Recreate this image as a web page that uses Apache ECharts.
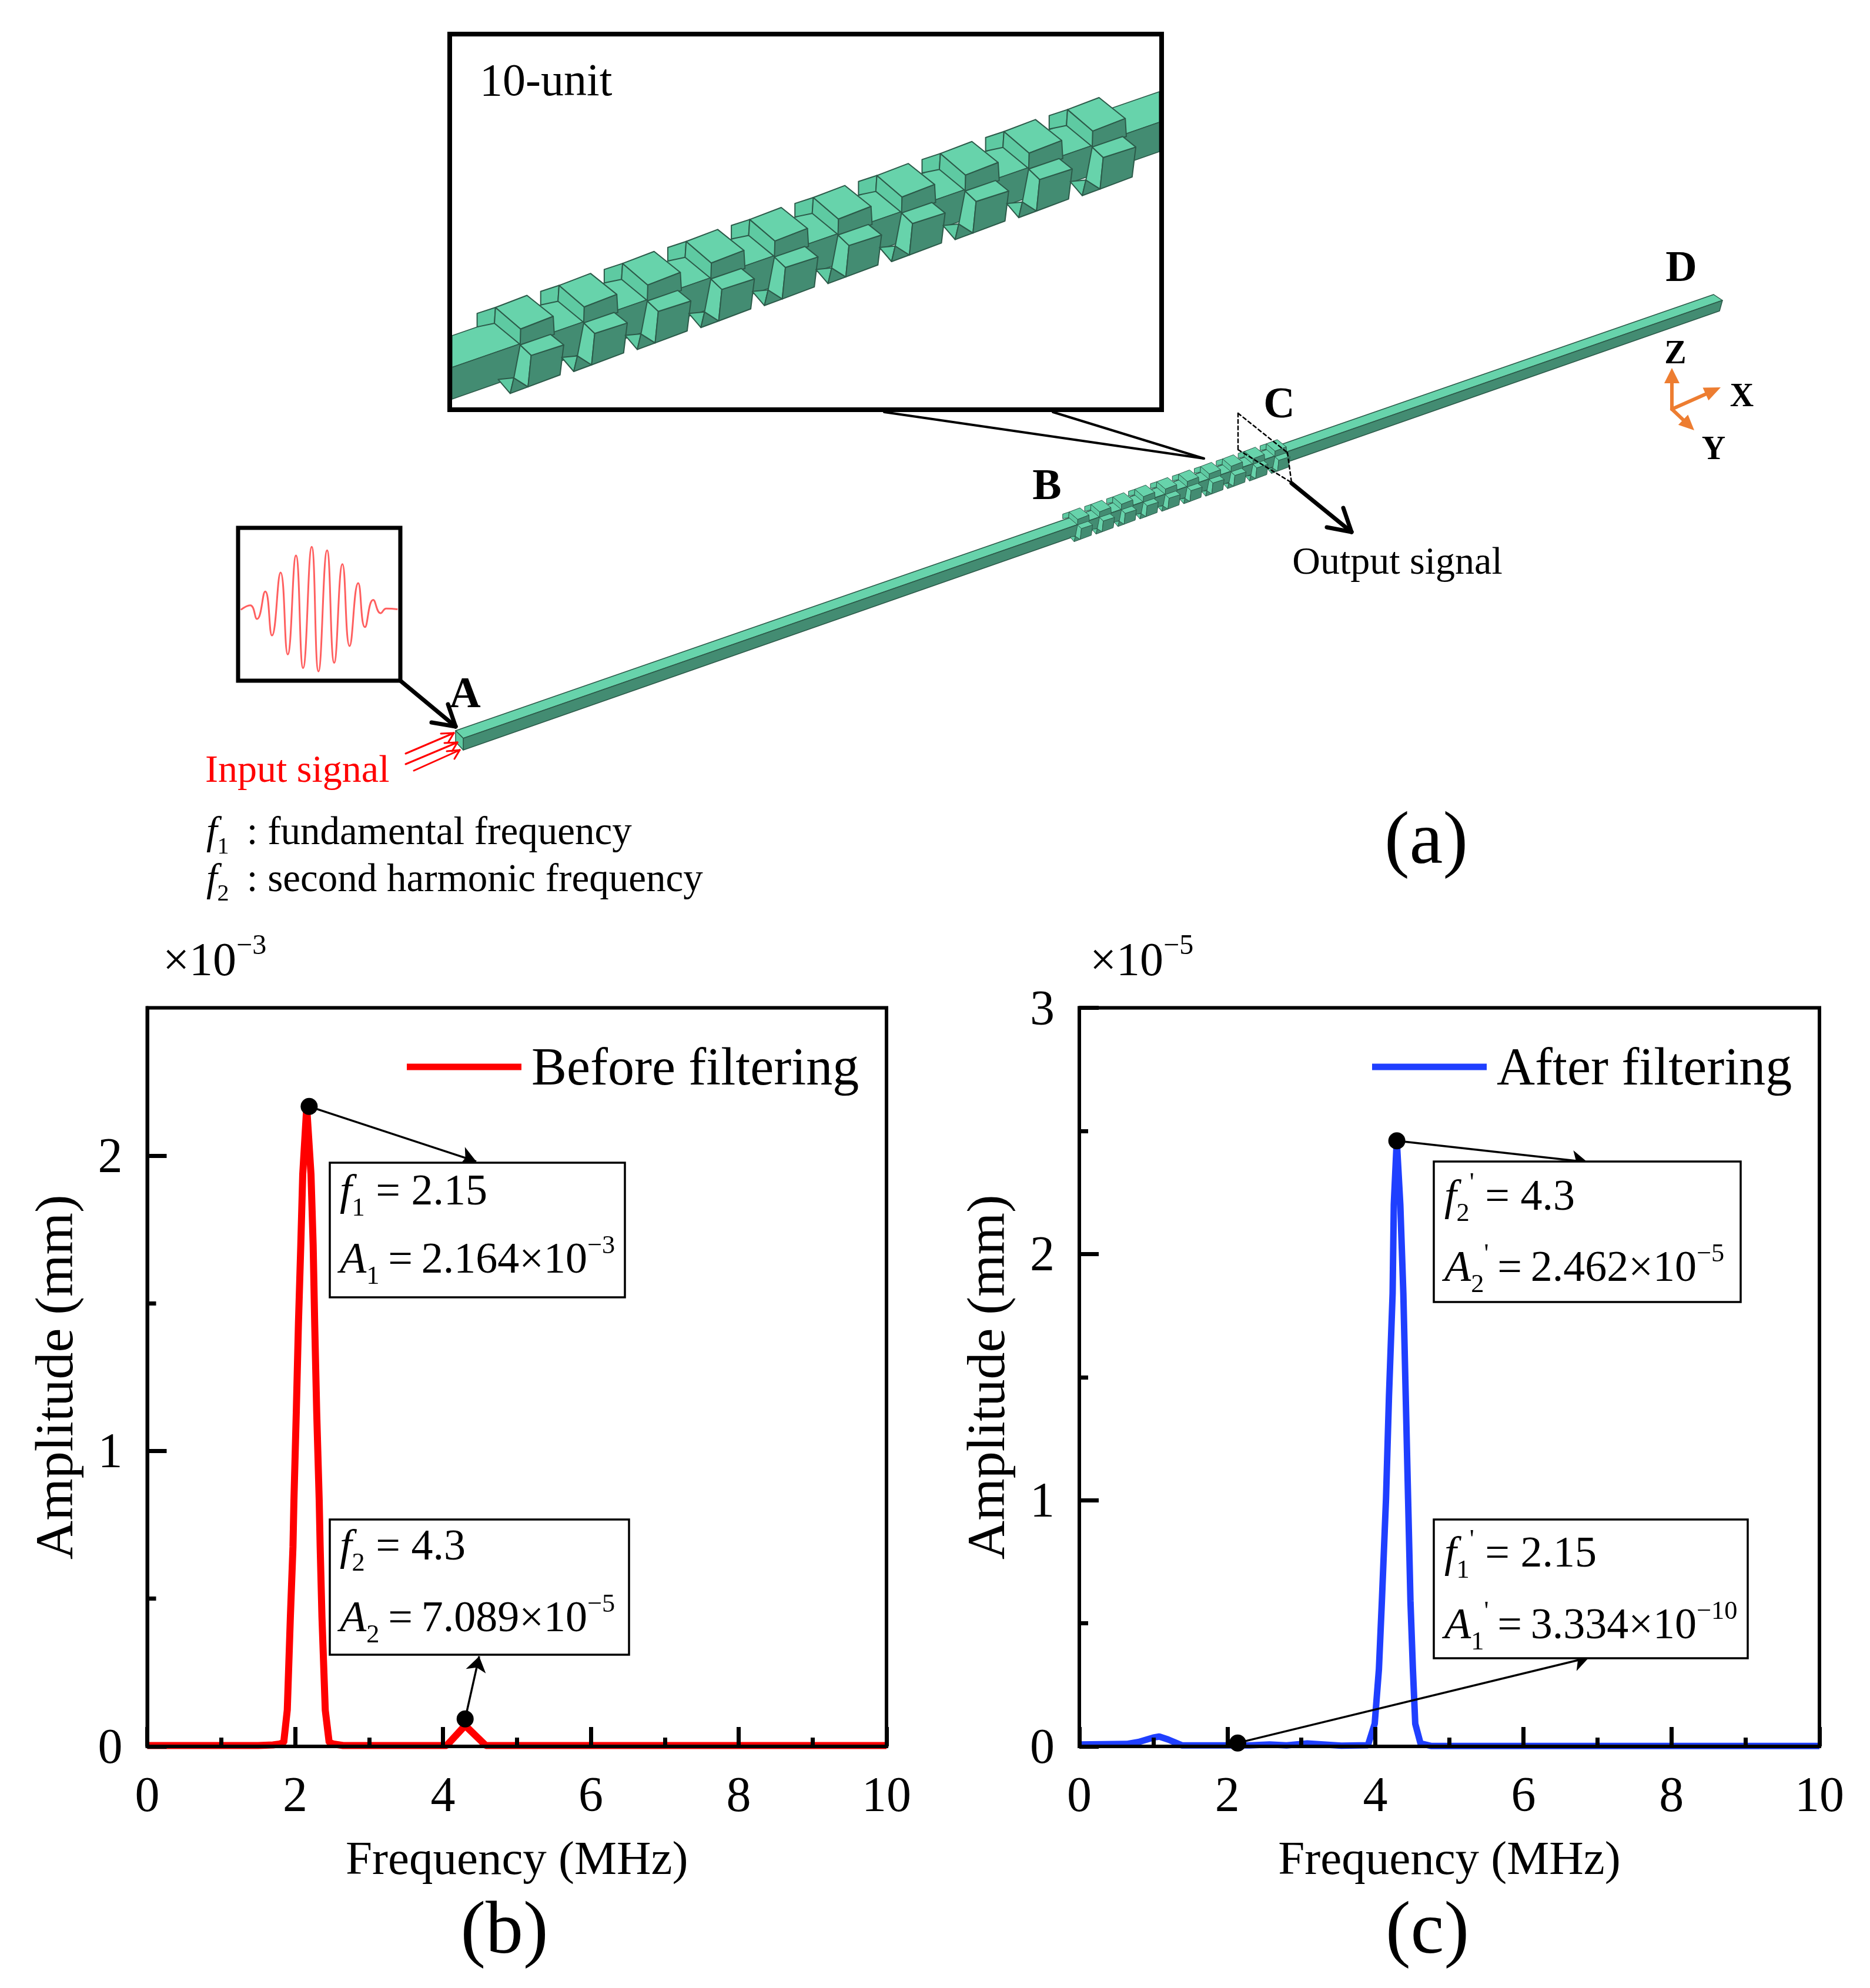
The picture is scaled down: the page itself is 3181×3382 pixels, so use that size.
<!DOCTYPE html>
<html>
<head>
<meta charset="utf-8">
<title>Filtering chart</title>
<script src="https://cdn.jsdelivr.net/npm/echarts@6/dist/echarts.min.js"></script>
<style>
  html, body { margin: 0; padding: 0; background: #fff; }
  #chart { width: 3181px; height: 3382px; }
</style>
</head>
<body>
<div id="chart"></div>
<script>
// (b) before filtering, amplitude in 1e-3 mm
const freqBefore = [0, 1.5, 1.7, 1.79, 1.846, 1.894, 1.936, 1.971, 1.984, 2.016, 2.045, 2.077, 2.103, 2.157, 2.215, 2.244, 2.265, 2.292, 2.326, 2.339, 2.363, 2.408, 2.461, 2.52, 2.65, 3.5, 4.05, 4.3, 4.58, 4.7, 10];
const ampBefore = [0.003, 0.003, 0.005, 0.008, 0.013, 0.123, 0.439, 0.675, 0.832, 1.132, 1.431, 1.699, 1.936, 2.164, 1.936, 1.699, 1.431, 1.132, 0.832, 0.675, 0.439, 0.123, 0.013, 0.008, 0.003, 0.003, 0.003, 0.0709, 0.003, 0.003, 0.003];
const peaksBefore = [[2.19, 2.166], [4.3, 0.093]];
const arrowEndsBefore = [[4.45, 1.98], [4.49, 0.305]];

// (c) after filtering, amplitude in 1e-5 mm
const freqAfter = [0, 0.64, 0.8, 1.0, 1.08, 1.2, 1.39, 2.3, 2.57, 2.8, 3.08, 3.54, 3.9, 3.991, 4.048, 4.088, 4.144, 4.184, 4.233, 4.249, 4.289, 4.337, 4.378, 4.41, 4.442, 4.474, 4.507, 4.539, 4.61, 4.75, 10];
const ampAfter = [0.008, 0.01, 0.018, 0.036, 0.04, 0.028, 0.004, 0.004, 0.008, 0.004, 0.012, 0.003, 0.005, 0.092, 0.314, 0.591, 1.007, 1.424, 1.84, 2.2, 2.462, 2.2, 1.84, 1.424, 1.007, 0.591, 0.314, 0.092, 0.012, 0.002, 0.002];
const peaksAfter = [[4.29, 2.46], [2.14, 0.014]];
const arrowEndsAfter = [[6.865, 2.373], [6.886, 0.361]];

const xMajorTicks = [0, 2, 4, 6, 8, 10];
const yMajorBefore = [0, 1, 2];
const yMinorBefore = [0.5, 1.5];
const yMajorAfter = [0, 1, 2, 3];
const yMinorAfter = [0.5, 1.5, 2.5];

// input burst in panel (a), extrema
const burstT = [172, 197, 215, 237, 255, 278, 297, 319, 338, 361, 379, 402, 421, 443, 462, 485, 503, 525, 545, 560, 590];
const burstA = [-2, 15, -37, 68, -100, 140, -172, 205, -224, 238, -237, 225, -204, 172, -140, 100, -68, 36, -15, 3, 0];

const SERIF = '"Liberation Serif", "Times New Roman", serif';
const BLACK = '#000';
const LIGHT = '#67d3ab';
const MID = '#5ecaa2';
const DARK = '#438c72';
const EDGE = '#2c5a49';
const THIN = '\u2009';

const els = [];

function rect(x0, y0, x1, y1, lw, fill) {
  els.push({ type: 'rect', z: 10, shape: { x: x0, y: y0, width: x1 - x0, height: y1 - y0 },
    style: { fill: fill || 'transparent', stroke: BLACK, lineWidth: lw } });
}
function seg(x1, y1, x2, y2, color, lw, dash) {
  els.push({ type: 'line', z: 11, shape: { x1, y1, x2, y2 },
    style: { stroke: color, lineWidth: lw, lineDash: dash || null, lineCap: 'round' } });
}
function poly(points, fill, stroke, lw) {
  els.push({ type: 'polygon', z: 9, shape: { points },
    style: { fill, stroke: stroke || EDGE, lineWidth: lw === undefined ? 1.5 : lw, lineJoin: 'round' } });
}
function label(text, x, y, size, opt) {
  opt = opt || {};
  els.push({ type: 'text', z: 12, style: {
    text, x, y, fill: opt.color || BLACK,
    fontFamily: SERIF, fontSize: size, fontWeight: opt.weight || 'normal',
    textAlign: opt.align || 'center', textVerticalAlign: 'middle'
  } });
}
function mathLabel(text, x, y, size) {
  els.push({ type: 'text', z: 12, style: {
    text, x, y, fill: BLACK, fontFamily: SERIF, fontSize: size,
    textAlign: 'left', textVerticalAlign: 'middle',
    rich: {
      i: { fontFamily: SERIF, fontStyle: 'italic', fontSize: size, lineHeight: size * 1.3, fill: BLACK },
      n: { fontFamily: SERIF, fontSize: size, lineHeight: size * 1.3, fill: BLACK },
      s: { fontFamily: SERIF, fontSize: size * 0.6, lineHeight: size * 1.3, verticalAlign: 'bottom', fill: BLACK },
      u: { fontFamily: SERIF, fontSize: size * 0.6, lineHeight: size * 1.3, verticalAlign: 'top', fill: BLACK }
    }
  } });
}
// solid arrow head
function solidArrow(x0, y0, x1, y1, color, lw, headLen, headWid) {
  const a = Math.atan2(y1 - y0, x1 - x0);
  const bx = x1 - headLen * Math.cos(a), by = y1 - headLen * Math.sin(a);
  const nx = -Math.sin(a) * headWid / 2, ny = Math.cos(a) * headWid / 2;
  seg(x0, y0, bx, by, color, lw);
  els.push({ type: 'polygon', z: 11, shape: { points: [[x1, y1], [bx + nx, by + ny], [bx - nx, by - ny]] },
    style: { fill: color } });
}
// open V arrow head, barbs given directly
function openArrow(x0, y0, x1, y1, b1, b2, color, lw) {
  seg(x0, y0, x1, y1, color, lw);
  seg(x1, y1, b1[0], b1[1], color, lw);
  seg(x1, y1, b2[0], b2[1], color, lw);
}

// one periodic unit (zoom crop units)
const unitFaces = [
  [[125, 1045], [160, 1025], [158, 1078], [125, 1090]],
  [[165, 1265], [195, 1260], [188, 1312]],
  [[195, 1260], [222, 1290], [188, 1312]],
  [[160, 1025], [208, 1097], [208, 1150], [158, 1078]],
  [[160, 1025], [220, 985], [270, 1055], [208, 1097]],
  [[208, 1097], [270, 1055], [272, 1115], [207, 1150]],
  [[207, 1150], [228, 1185], [222, 1290], [195, 1260]],
  [[228, 1185], [290, 1150], [283, 1250], [222, 1290]],
  [[207, 1150], [265, 1115], [290, 1150], [228, 1185]]
];
const unitColors = [MID, MID, DARK, MID, LIGHT, DARK, LIGHT, DARK, LIGHT];

function unitPoint(p, i) {
  return [700 + (p[0] + 121.1 * i) / 1.12, (p[1] - 73.3 * i) / 1.96];
}
function drawUnits(map, lw) {
  for (let i = 0; i < 10; i++) {
    unitFaces.forEach((f, k) => {
      poly(f.map(p => map(unitPoint(p, i))), unitColors[k], EDGE, lw);
    });
  }
}

// long beam
poly([[775, 1243], [2915, 501], [2930, 511], [788, 1256]], LIGHT, EDGE, 1.5);
poly([[788, 1256], [2930, 511], [2925, 529], [788, 1276]], DARK, EDGE, 1.5);
poly([[775, 1243], [788, 1256], [788, 1276], [775, 1262]], MID, EDGE, 1.5);
drawUnits(p => [1833 + (p[0] - 884.8) * 0.345, 893 + (p[1] - 586.7) * 0.345], 1);

// inset, the faces sit between its white fill and its frame
poly([[765, 58], [1976, 58], [1976, 697], [765, 697]], '#fff', '#fff', 0);
poly([[769, 571], [1972, 156], [1972, 208], [769, 625]], LIGHT, EDGE, 1.5);
poly([[769, 625], [1972, 208], [1972, 258], [769, 679]], DARK, EDGE, 1.5);
drawUnits(p => p, 2);
rect(765, 58, 1976, 697, 8);
label('10-unit', 816, 142, 78, { align: 'left' });
seg(1504, 701, 2048, 780, BLACK, 4);
seg(1791, 701, 2048, 780, BLACK, 4);

// plane at C
seg(2106, 703, 2106, 765, BLACK, 2.5, [6, 5]);
seg(2106, 703, 2190, 770, BLACK, 2.5, [6, 5]);
seg(2190, 770, 2197, 821, BLACK, 2.5, [6, 5]);
seg(2106, 765, 2197, 821, BLACK, 2.5, [6, 5]);

// signal box and arrows
rect(405, 898, 681, 1158, 7);
openArrow(681, 1158, 775, 1236, [734, 1229], [762, 1198], BLACK, 7);
openArrow(2197, 822, 2299, 905, [2257, 897], [2285, 864], BLACK, 7);
openArrow(690, 1282, 772, 1247, [750, 1248], [763, 1262], '#f00', 3);
openArrow(690, 1300, 778, 1263, [756, 1264], [769, 1278], '#f00', 3);
openArrow(704, 1311, 782, 1276, [760, 1278], [773, 1291], '#f00', 3);

// orientation triad
solidArrow(2844, 696, 2844, 626, '#ed7d31', 6, 26, 26);
solidArrow(2844, 696, 2927, 659, '#ed7d31', 6, 28, 24);
solidArrow(2844, 696, 2882, 732, '#ed7d31', 6, 26, 24);

label('A', 791, 1184, 74, { weight: 'bold' });
label('B', 1781, 830, 74, { weight: 'bold' });
label('C', 2176, 691, 74, { weight: 'bold' });
label('D', 2860, 459, 74, { weight: 'bold' });
label('Z', 2850, 604, 56, { weight: 'bold' });
label('X', 2963, 677, 56, { weight: 'bold' });
label('Y', 2915, 767, 56, { weight: 'bold' });
label('Input signal', 349, 1313, 66, { align: 'left', color: '#f00' });
label('Output signal', 2377, 959, 66);
mathLabel('{i|f}{s|1}{n|' + THIN + ' : fundamental frequency}', 351, 1418, 67);
mathLabel('{i|f}{s|2}{n|' + THIN + ' : second harmonic frequency}', 351, 1498, 67);

label('(a)', 2426, 1434, 128);
label('(b)', 858, 3288, 128);
label('(c)', 2428, 3288, 128);

// annotation boxes
const EQ = THIN + '=' + THIN;
rect(561, 1978, 1063, 2207, 3.5, '#fff');
rect(561, 2585, 1070, 2815, 3.5, '#fff');
rect(2439, 1976, 2961, 2215, 3.5, '#fff');
rect(2439, 2585, 2973, 2821, 3.5, '#fff');
mathLabel('{i|f}{s|1}{n| = 2.15}', 578, 2030, 74);
mathLabel('{i|A}{s|1}{n|' + EQ + '2.164×10}{u|−3}', 578, 2146, 74);
mathLabel('{i|f}{s|2}{n| = 4.3}', 578, 2634, 74);
mathLabel('{i|A}{s|2}{n|' + EQ + '7.089×10}{u|−5}', 578, 2756, 74);
mathLabel("{i|f}{s|2}{u|'}{n| = 4.3}", 2457, 2039, 74);
mathLabel("{i|A}{s|2}{u|'}{n|" + EQ + '2.462×10}{u|−5}', 2457, 2160, 74);
mathLabel("{i|f}{s|1}{u|'}{n| = 2.15}", 2457, 2646, 74);
mathLabel("{i|A}{s|1}{u|'}{n|" + EQ + '3.334×10}{u|−10}', 2457, 2768, 74);

// axis multipliers
mathLabel('{n|×10}{u|−3}', 277, 1638, 80);
mathLabel('{n|×10}{u|−5}', 1854, 1638, 80);

function xAxisFor(gridIndex) {
  return {
    gridIndex, type: 'value', min: 0, max: 10, interval: 2, z: 5,
    name: 'Frequency (MHz)', nameLocation: 'middle', nameGap: 155,
    nameTextStyle: { fontFamily: SERIF, fontSize: 81, color: BLACK },
    axisLine: { show: true, onZero: false, lineStyle: { color: BLACK, width: 6 } },
    axisTick: { show: true, inside: true, length: 33, lineStyle: { color: BLACK, width: 7 }, customValues: xMajorTicks },
    minorTick: { show: true, splitNumber: 2, length: 15, lineStyle: { color: BLACK, width: 7 } },
    axisLabel: { fontFamily: SERIF, fontSize: 84, color: BLACK, margin: 46, customValues: xMajorTicks },
    splitLine: { show: false }, minorSplitLine: { show: false }
  };
}
function yAxisFor(gridIndex, max, major) {
  return {
    gridIndex, type: 'value', min: 0, max, interval: 1, z: 5, position: 'left',
    name: 'Amplitude (mm)', nameLocation: 'middle', nameGap: 106,
    nameTextStyle: { fontFamily: SERIF, fontSize: 92, color: BLACK },
    axisLine: { show: true, onZero: false, lineStyle: { color: BLACK, width: 6 } },
    axisTick: { show: true, inside: true, length: 33, lineStyle: { color: BLACK, width: 7 }, customValues: major },
    axisLabel: {
      margin: 42, customValues: major, formatter: '{v|{value}}',
      rich: { v: { fontFamily: SERIF, fontSize: 84, color: BLACK, padding: [12, 0, 0, 0] } }
    },
    splitLine: { show: false }
  };
}
// second axis on the same scale just for the short ticks
function yMinorAxisFor(gridIndex, max, minor) {
  return {
    gridIndex, type: 'value', min: 0, max, z: 5, position: 'left',
    axisLine: { show: false },
    axisTick: { show: true, inside: true, length: 15, lineStyle: { color: BLACK, width: 7 }, customValues: minor },
    axisLabel: { show: false }, splitLine: { show: false }
  };
}
function pairs(xs, ys) {
  return xs.map((x, i) => [x, ys[i]]);
}
function arrows(from, to) {
  return from.map((p, i) => [{ coord: p }, { coord: to[i] }]);
}
function legendFor(name, left) {
  return {
    data: [name], left, top: 1771, icon: 'rect', itemWidth: 195, itemHeight: 11, itemGap: 0,
    formatter: '{t|{name}}',
    textStyle: {
      rich: { t: { fontFamily: SERIF, fontSize: 90, color: BLACK, padding: [12, 0, 0, 12] } }
    }
  };
}

const chart = echarts.init(document.getElementById('chart'));
chart.setOption({
  backgroundColor: '#fff',
  animation: false,
  legend: [legendFor('Before filtering', 687), legendFor('After filtering', 2329)],
  grid: [
    { left: 250.5, top: 1714.5, width: 1257.5, height: 1256.5, show: true, borderColor: BLACK, borderWidth: 6 },
    { left: 1836, top: 1714.5, width: 1259, height: 1256.5, show: true, borderColor: BLACK, borderWidth: 6 },
    { left: 409.7, top: 925, width: 266.6, height: 223, show: false }
  ],
  xAxis: [
    xAxisFor(0),
    xAxisFor(1),
    { gridIndex: 2, type: 'value', min: 172, max: 590, show: false }
  ],
  yAxis: [
    yAxisFor(0, 2.5, yMajorBefore),
    yMinorAxisFor(0, 2.5, yMinorBefore),
    yAxisFor(1, 3, yMajorAfter),
    yMinorAxisFor(1, 3, yMinorAfter),
    { gridIndex: 2, type: 'value', min: -250, max: 250, show: false }
  ],
  series: [
    {
      name: 'Before filtering', type: 'line', xAxisIndex: 0, yAxisIndex: 0, clip: false,
      symbol: 'none', data: pairs(freqBefore, ampBefore),
      lineStyle: { color: '#f00', width: 12 }, itemStyle: { color: '#f00' }
    },
    {
      name: 'After filtering', type: 'line', xAxisIndex: 1, yAxisIndex: 2, clip: false,
      symbol: 'none', data: pairs(freqAfter, ampAfter),
      lineStyle: { color: '#1f3fff', width: 11 }, itemStyle: { color: '#1f3fff' }
    },
    {
      name: 'Peaks before', type: 'scatter', xAxisIndex: 0, yAxisIndex: 0, z: 6, clip: false,
      symbolSize: 29, itemStyle: { color: BLACK, opacity: 1 }, data: peaksBefore,
      markLine: {
        silent: true, animation: false, symbol: ['none', 'arrow'], symbolSize: 26,
        label: { show: false }, lineStyle: { color: BLACK, width: 3.5, type: 'solid' },
        data: arrows(peaksBefore, arrowEndsBefore)
      }
    },
    {
      name: 'Peaks after', type: 'scatter', xAxisIndex: 1, yAxisIndex: 2, z: 6, clip: false,
      symbolSize: 29, itemStyle: { color: BLACK, opacity: 1 }, data: peaksAfter,
      markLine: {
        silent: true, animation: false, symbol: ['none', 'arrow'], symbolSize: 26,
        label: { show: false }, lineStyle: { color: BLACK, width: 3.5, type: 'solid' },
        data: arrows(peaksAfter, arrowEndsAfter)
      }
    },
    {
      name: 'Input burst', type: 'line', xAxisIndex: 2, yAxisIndex: 4, smooth: 0.5,
      symbol: 'none', data: pairs(burstT, burstA), silent: true,
      lineStyle: { color: '#ff5f5f', width: 3 }
    }
  ],
  graphic: { elements: els }
});
</script>
</body>
</html>
